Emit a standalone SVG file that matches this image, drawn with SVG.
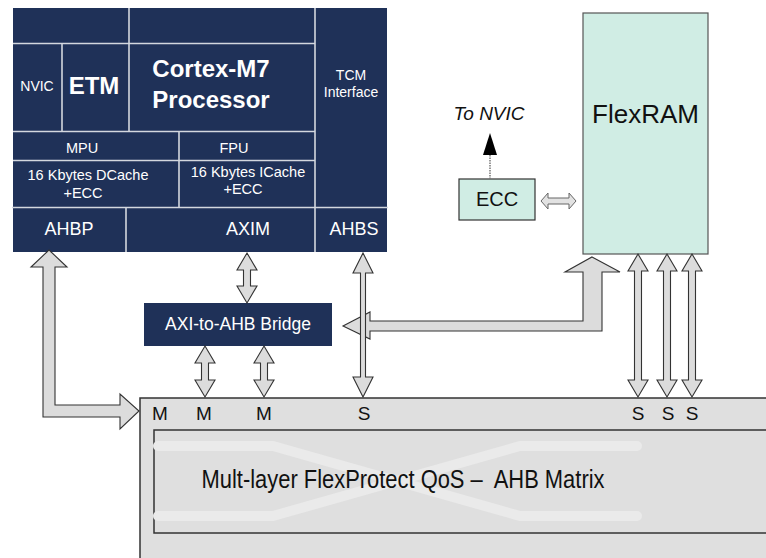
<svg xmlns="http://www.w3.org/2000/svg" width="766" height="558" viewBox="0 0 766 558">
<defs>
<style>
.navy{fill:#1f3158}
.div{stroke:#d3d7de;stroke-width:1.6;fill:none}
.wt{fill:#ffffff;font-family:"Liberation Sans",Arial,sans-serif;text-anchor:middle}
.bk{fill:#111111;font-family:"Liberation Sans",Arial,sans-serif;text-anchor:middle}
.arr{fill:#dcdcdc;stroke:#333333;stroke-width:1.1;stroke-linejoin:miter}
.lbl{font-size:19px}
</style>
</defs>
<rect width="766" height="558" fill="#ffffff"/>

<g id="processor">
<rect class="navy" x="13" y="8" width="374" height="244"/>
<path class="div" d="M13 43.5H315M129 8V131M62 43V131M13 131.5H315M13 160.5H315M179 131V207M315 8V252M12 207.5H388M126 207V252"/>
<text class="wt" x="37" y="91" font-size="14">NVIC</text>
<text class="wt" x="94" y="94" font-size="24" font-weight="bold">ETM</text>
<text class="wt" x="211" y="77" font-size="24" font-weight="bold">Cortex-M7</text>
<text class="wt" x="211" y="108" font-size="24" font-weight="bold">Processor</text>
<text class="wt" x="351" y="80" font-size="14">TCM</text>
<text class="wt" x="351" y="97" font-size="14">Interface</text>
<text class="wt" x="82" y="153" font-size="14.5">MPU</text>
<text class="wt" x="234" y="153" font-size="14.5">FPU</text>
<text class="wt" x="88" y="180" font-size="14.5">16 Kbytes DCache</text>
<text class="wt" x="83" y="198" font-size="14.5">+ECC</text>
<text class="wt" x="248" y="177" font-size="14.5">16 Kbytes ICache</text>
<text class="wt" x="243" y="194" font-size="14.5">+ECC</text>
<text class="wt" x="69" y="235" font-size="18">AHBP</text>
<text class="wt" x="248" y="235" font-size="18">AXIM</text>
<text class="wt" x="354" y="235" font-size="18">AHBS</text>
</g>

<g id="flexram">
<rect x="583" y="13" width="125" height="241" fill="#d0ede4" stroke="#555555" stroke-width="1.2"/>
<text class="bk" x="645.5" y="123" font-size="26">FlexRAM</text>
</g>

<g id="ecc">
<rect x="459" y="179" width="76" height="41" fill="#d0ede4" stroke="#333333" stroke-width="1.2"/>
<text class="bk" x="497" y="206" font-size="20">ECC</text>
</g>

<g id="to-nvic">
<text class="bk" x="489" y="120" font-size="19" font-style="italic">To NVIC</text>
</g>

<g id="bridge">
<rect class="navy" x="144" y="303" width="188" height="43"/>
<text class="wt" x="238" y="330" font-size="17.5">AXI-to-AHB Bridge</text>
</g>

<g id="matrix">
<rect x="140" y="398" width="640" height="170" fill="#dfdfdf" stroke="#333333" stroke-width="1.5"/>
<rect x="154" y="430" width="620" height="103" fill="#dfdfdf" stroke="#333333" stroke-width="1.5"/>
<path d="M158 446H273L520 516H637M158 516H273L520 446H637" fill="none" stroke="#eaeaea" stroke-width="10" stroke-linecap="round" stroke-linejoin="round"/>
<text class="bk" x="403" y="488" font-size="26" textLength="403" lengthAdjust="spacingAndGlyphs" xml:space="preserve">Mult-layer FlexProtect QoS –  AHB Matrix</text>
<text class="bk lbl" x="160" y="420">M</text>
<text class="bk lbl" x="204" y="420">M</text>
<text class="bk lbl" x="264" y="420">M</text>
<text class="bk lbl" x="364" y="420">S</text>
<text class="bk lbl" x="638" y="420">S</text>
<text class="bk lbl" x="668" y="420">S</text>
<text class="bk lbl" x="692" y="420">S</text>
</g>

<g id="connectors">
<path class="arr" d="M49 250L67 267H55V405H120V394L139 411L120 429V417H43V267H31Z"/>
<path class="arr" d="M247 253L257 270H250.5V286H257L247 303L237 286H243.5V270H237Z"/>
<path class="arr" d="M205 346L215 363H208.5V380H215L205 397L195 380H201.5V363H195Z"/>
<path class="arr" d="M264 346L274 363H267.5V380H274L264 397L254 380H260.5V363H254Z"/>
<path class="arr" d="M592 257L620 272H602V331H370V339L343 326L370 312V321H583V272H565Z"/>
<path class="arr" d="M363 253L373 273H365.5V377H373L363 397L353 377H360.5V273H353Z"/>
<path class="arr" d="M638 254L648 271H641.5V380H648L638 397L628 380H634.5V271H628Z"/>
<path class="arr" d="M667 254L677 271H670.5V380H677L667 397L657 380H663.5V271H657Z"/>
<path class="arr" d="M692 254L702 271H695.5V380H702L692 397L682 380H688.5V271H682Z"/>
<path d="M541 201L548 193V198H569V193L576 201L569 209V204H548V209Z" fill="#e2e2e2" stroke="#666666" stroke-width="1"/>
<line x1="490" y1="179" x2="490" y2="154" stroke="#777777" stroke-width="1.5" stroke-dasharray="1.5,1"/>
<path d="M490 133L497 155H483Z" fill="#000000"/>
</g>
</svg>
